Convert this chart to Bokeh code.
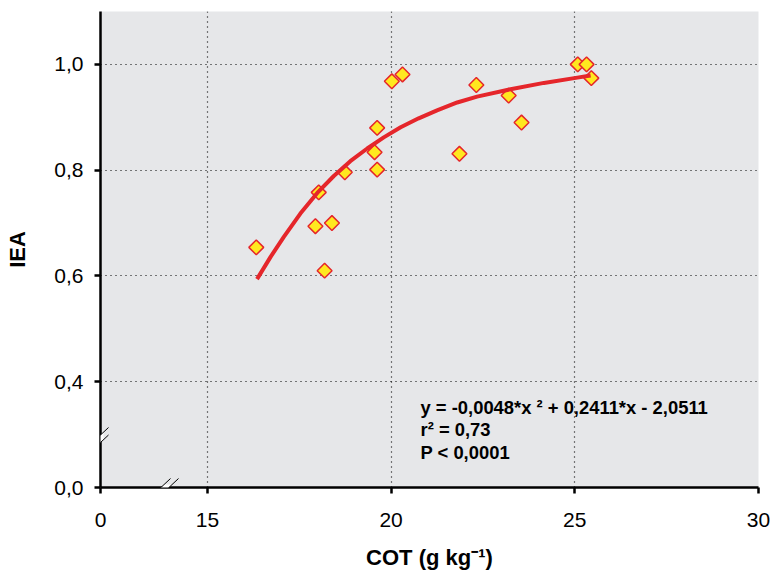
import numpy as np
from bokeh.plotting import figure
from bokeh.models import FixedTicker, Arrow, PolyAnnotation, Label, Range1d
from bokeh.embed import file_html
from bokeh.resources import INLINE

# ---- data ----
cot = [16.33, 17.94, 18.03, 18.39, 18.19, 18.74, 19.55, 19.62, 19.62,
       20.02, 20.31, 21.86, 22.32, 23.20, 23.55, 25.08, 25.32, 25.45]
iea = [0.654, 0.694, 0.758, 0.700, 0.610, 0.796, 0.834, 0.801, 0.880,
       0.968, 0.981, 0.831, 0.961, 0.941, 0.890, 1.000, 1.000, 0.974]

# fitted curve, points
fit_x = [16.35, 16.72, 17.08, 17.53, 17.99, 18.44, 18.89, 19.35, 19.80,
         20.26, 20.75, 21.25, 21.80, 22.34, 23.25, 24.16, 25.07, 25.43]
fit_y = [0.594, 0.636, 0.674, 0.718, 0.757, 0.789, 0.817, 0.841, 0.862,
         0.881, 0.898, 0.913, 0.928, 0.939, 0.953, 0.965, 0.975, 0.979]

x_ticks = [12.09, 15, 20, 25, 30]
x_tick_labels = ["0", "15", "20", "25", "30"]
y_ticks = [0.2, 0.4, 0.6, 0.8, 1.0]
y_tick_labels = ["0,0", "0,4", "0,6", "0,8", "1,0"]
eq_lines = ["y = -0,0048*x \u00b2 + 0,2411*x - 2,0511", "r\u00b2 = 0,73", "P < 0,0001"]
x_label = "COT (g kg\u207b\u00b9)"
y_label = "IEA"

# ---- layout ----
X0, X1 = x_ticks[0], 30.0
Y0, Y1 = y_ticks[0], 1.1
W, H = 772, 575
ML, MR, MT, MB = 100, 14, 11, 88
FW = W - ML - MR
FH = H - MT - MB
sx = FW / (X1 - X0)
sy = FH / (Y1 - Y0)

def dx(px):
    return X0 + px / sx

def dy(py):
    return Y0 + py / sy

FONT = "Liberation Sans"

p = figure(width=W, height=H, x_range=Range1d(X0, X1), y_range=Range1d(Y0, Y1),
           output_backend="svg", toolbar_location=None,
           min_border_left=ML, min_border_right=MR, min_border_top=MT, min_border_bottom=MB)
p.background_fill_color = "#e6e7e9"
p.border_fill_color = "white"
p.outline_line_color = None

for ax, ticks, labels in ((p.xaxis[0], x_ticks, x_tick_labels), (p.yaxis[0], y_ticks, y_tick_labels)):
    ax.ticker = FixedTicker(ticks=ticks)
    ax.major_label_overrides = {t: l for t, l in zip(ticks, labels)}
    ax.major_tick_out = 6
    ax.major_tick_in = 0
    ax.minor_tick_line_color = None
    ax.axis_line_width = 2.5
    ax.axis_line_color = "black"
    ax.major_tick_line_width = 2.5
    ax.major_tick_line_color = "black"
    ax.major_label_text_font = FONT
    ax.major_label_text_font_size = "21px"
    ax.major_label_text_color = "black"
    ax.axis_label_text_font = FONT
    ax.axis_label_text_font_size = "22px"
    ax.axis_label_text_font_style = "bold"
    ax.axis_label_text_color = "black"

p.xaxis.axis_label = x_label
p.yaxis.axis_label = y_label
p.xaxis.major_label_standoff = 19
p.yaxis.major_label_standoff = 11
p.xaxis.axis_label_standoff = 15
p.yaxis.axis_label_standoff = 21

for g in (p.xgrid[0], p.ygrid[0]):
    g.grid_line_color = "black"
    g.grid_line_dash = "1 4"
    g.grid_line_width = 1.2

# points
p.scatter(cot, iea, marker="square", angle=np.pi / 4, size=10.5,
          fill_color="#ffe81f", line_color="#e5262b", line_width=1.5)

# fitted curve (drawn over the points, as in the reference)
p.line(fit_x, fit_y, line_color="#e5262b", line_width=4, line_join="round")

# equation text
for i, t in enumerate(eq_lines):
    p.add_layout(Label(x=dx(320), y=dy(80.3 - 22.5 * i), text=t, text_font=FONT,
                       text_font_size="18.4px", text_font_style="bold",
                       text_color="black", text_baseline="alphabetic"))

# y axis break
ys1, ys2 = 52.5, 45.0
k = 15 / 16
p.add_layout(PolyAnnotation(xs=[dx(-3), dx(3), dx(3), dx(-3)],
                            ys=[dy(ys2 - 3 * k), dy(ys2 + 3 * k), dy(ys1 + 3 * k), dy(ys1 - 3 * k)],
                            fill_color="white", fill_alpha=1, line_color=None, line_alpha=0))
for c in (ys1, ys2):
    p.add_layout(Arrow(end=None, x_start=dx(-8), y_start=dy(c - 7.5), x_end=dx(8), y_end=dy(c + 7.5),
                       line_color="black", line_width=1))

# x axis break
xc1, xc2, xcy = 62.0, 70.0, 1.5
m = 16 / 15
p.add_layout(PolyAnnotation(xs=[dx(xc1 + (-3 - xcy) * m), dx(xc2 + (-3 - xcy) * m),
                                dx(xc2 + (3 - xcy) * m), dx(xc1 + (3 - xcy) * m)],
                            ys=[dy(-3), dy(-3), dy(3), dy(3)],
                            fill_color="white", fill_alpha=1, line_color=None, line_alpha=0))
for c in (xc1, xc2):
    p.add_layout(Arrow(end=None, x_start=dx(c - 8), y_start=dy(xcy - 7.5), x_end=dx(c + 8), y_end=dy(xcy + 7.5),
                       line_color="black", line_width=1))

open("out.html", "w").write(file_html(p, INLINE))
